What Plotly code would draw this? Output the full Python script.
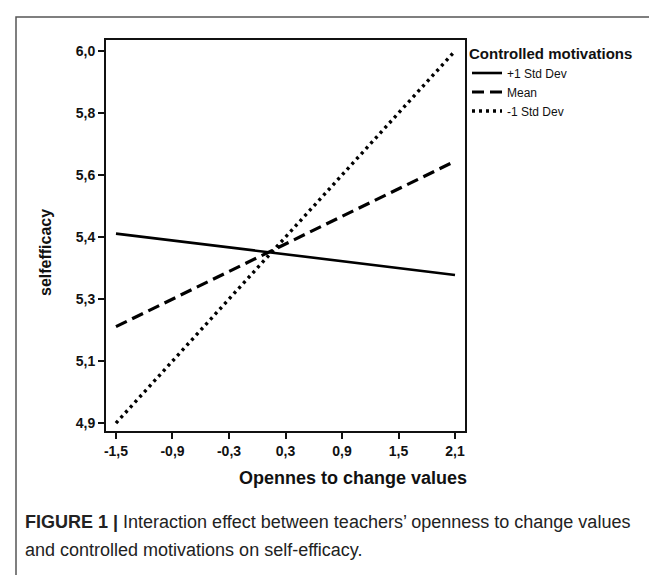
import plotly.graph_objects as go

# ---- data ----
x_ends = [-1.5, 2.1]
plus_sd = [5.45, 5.33]
mean_vals = [5.18, 5.66]
minus_sd = [4.90, 5.98]
series_names = ["+1 Std Dev", "Mean", "-1 Std Dev"]

x_tickvals = [-1.5, -0.9, -0.3, 0.3, 0.9, 1.5, 2.1]
x_ticktext = ["<b>-1,5</b>", "<b>-0,9</b>", "<b>-0,3</b>", "<b>0,3</b>", "<b>0,9</b>", "<b>1,5</b>", "<b>2,1</b>"]
y_tickvals = [4.90, 5.08, 5.26, 5.44, 5.62, 5.80, 5.98]
y_ticktext = ["<b>4,9</b>", "<b>5,1</b>", "<b>5,3</b>", "<b>5,4</b>", "<b>5,6</b>", "<b>5,8</b>", "<b>6,0</b>"]

caption_lines = ["<b>FIGURE 1 |</b> Interaction effect between teachers\u2019 openness to change values",
                 "and controlled motivations on self-efficacy."]

W, H = 657, 575
L, R, T, B = 98, 457, 32, 423  # plot frame in pixels


def px(x):
    return (x - L) / (R - L)


def py(y):
    return (B - y) / (B - T)


fig = go.Figure()
styles = [dict(dash="solid", width=2.6),
          dict(dash="12px,6px", width=3.2),
          dict(dash="3px,4px", width=3.4)]
for name, vals, st in zip(series_names, [plus_sd, mean_vals, minus_sd], styles):
    fig.add_trace(go.Scatter(x=x_ends, y=vals, mode="lines", name=name,
                             line=dict(color="black", **st)))

fig.update_layout(
    width=W, height=H, autosize=False,
    margin=dict(l=L, r=W - R, t=T, b=H - B, pad=0),
    paper_bgcolor="white", plot_bgcolor="white",
    font=dict(family="Liberation Sans, Arial", color="#111"),
    showlegend=True,
    legend=dict(
        x=px(459), y=py(31), xanchor="left", yanchor="top",
        title=dict(text="<b>Controlled motivations</b>",
                   font=dict(size=15, family="Liberation Sans, Arial", color="#111")),
        font=dict(size=12, family="Liberation Sans, Arial", color="#111"),
        itemwidth=30, tracegroupgap=0, bgcolor="rgba(0,0,0,0)",
    ),
    xaxis=dict(
        range=[-1.606, 2.206], tickvals=x_tickvals, ticktext=x_ticktext,
        ticks="outside", ticklen=6, tickwidth=2, tickcolor="#111",
        showline=True, linecolor="#111", linewidth=2, mirror=True,
        showgrid=False, zeroline=False,
        tickfont=dict(family="Liberation Sans, Arial", size=14, color="#111"),
    ),
    yaxis=dict(
        range=[4.877, 6.012], tickvals=y_tickvals, ticktext=y_ticktext,
        ticks="outside", ticklen=6, tickwidth=2, tickcolor="#111",
        showline=True, linecolor="#111", linewidth=2, mirror=True,
        showgrid=False, zeroline=False,
        tickfont=dict(family="Liberation Sans, Arial", size=14, color="#111"),
    ),
)

# axis titles as annotations (positioned like the reference)
fig.add_annotation(text="<b>Opennes to change values</b>", xref="paper", yref="paper",
                   x=px(461), y=py(470), xanchor="right", yanchor="middle",
                   showarrow=False, font=dict(size=18, family="Liberation Sans, Arial", color="#111"))
fig.add_annotation(text="<b>selfefficacy</b>", xref="paper", yref="paper",
                   x=px(38), y=py(245), xanchor="center", yanchor="middle", textangle=-90,
                   showarrow=False, font=dict(size=16, family="Liberation Sans, Arial", color="#111"))

# caption (two lines, wider line spacing like the reference)
for i, line in enumerate(caption_lines):
    fig.add_annotation(
        text=line, xref="paper", yref="paper", x=px(15), y=py(514 + 28 * i),
        xanchor="left", yanchor="middle", align="left", showarrow=False,
        font=dict(size=18, family="Liberation Sans, Arial", color="#222"))

# outer figure border
fig.add_shape(type="rect", xref="paper", yref="paper",
              x0=px(8), x1=px(700), y0=py(620), y1=py(9),
              line=dict(color="#555", width=1.5), fillcolor="rgba(0,0,0,0)", layer="below")

fig.write_html("out.html")
